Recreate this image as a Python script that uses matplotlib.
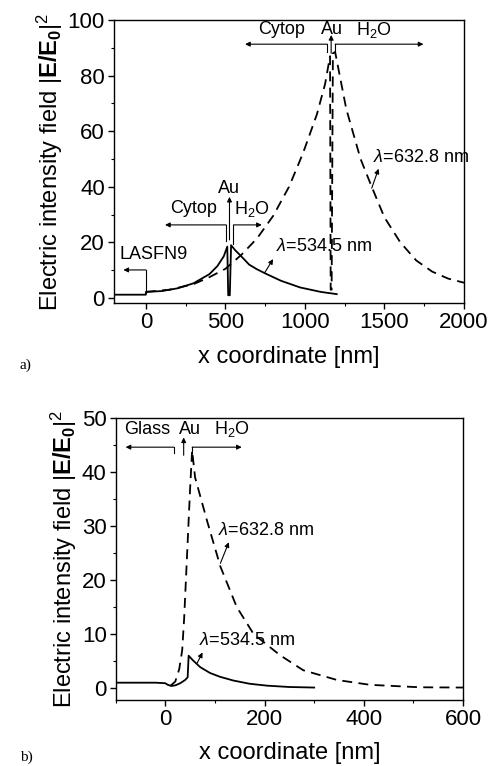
import numpy as np
import matplotlib
matplotlib.use("Agg")
import matplotlib.pyplot as plt
from matplotlib.ticker import MultipleLocator

plt.rcParams['font.family'] = ['Liberation Sans', 'DejaVu Sans']
plt.rcParams['mathtext.fontset'] = 'custom'
plt.rcParams['mathtext.rm'] = 'Liberation Sans'
plt.rcParams['mathtext.it'] = 'Liberation Sans:italic'
plt.rcParams['mathtext.bf'] = 'Liberation Sans:bold'

# ---- panel a: LASFN9 / Cytop / Au / H2O ----
xa_534 = [-200, 0, 1, 100, 200, 300, 400, 450, 490, 512, 518, 528, 536, 560, 600,
          650, 700, 760, 850, 970, 1100, 1200]
ya_534 = [1.2, 1.2, 2.2, 2.5, 3.5, 5.3, 8.6, 11.5, 15.0, 18.5, 1.0, 1.0, 19.0, 17.3, 15.0,
          12.0, 10.3, 8.6, 6.2, 3.8, 2.2, 1.4]

xa_632 = [0, 150, 300, 400, 500, 600, 700, 800, 900, 970, 1000, 1075, 1127, 1158, 1162,
          1168, 1176, 1190, 1260, 1350, 1420, 1500, 1600, 1700, 1800, 1900, 2000]
ya_632 = [2.2, 3.0, 5.0, 7.5, 10.5, 15.5, 21.5, 29.5, 40.0, 49.6, 54.0, 66.0, 77.0, 87.0, 3.0,
          3.0, 88.0, 88.5, 68.0, 50.0, 40.0, 29.0, 20.0, 13.5, 9.5, 7.0, 5.5]

# ---- panel b: Glass / Au / H2O ----
xb_534 = [-100, -20, 0, 5, 12, 20, 30, 40, 45, 47, 55, 70, 90, 110, 137, 170, 205, 250, 300]
yb_534 = [1.0, 1.0, 0.9, 0.6, 0.4, 0.5, 0.9, 1.5, 2.0, 6.0, 5.2, 3.9, 2.8, 2.1, 1.4, 0.8,
          0.45, 0.2, 0.1]

xb_632 = [10, 20, 28, 34, 38, 42, 46, 50, 54, 60, 84, 111, 144, 178, 231, 278, 346, 413,
          513, 600]
yb_632 = [0.4, 1.2, 3.5, 7.0, 13.0, 21.0, 29.0, 37.0, 44.0, 39.0, 31.0, 22.5, 15.0, 10.0,
          6.1, 3.3, 1.5, 0.6, 0.15, 0.1]

label_size = 17
tick_size = 16
note_size = 13
dash = (0, (5.5, 3.5))


def style_axes(ax, xmaj, xmin, ymaj, ymin):
    ax.xaxis.set_major_locator(MultipleLocator(xmaj))
    ax.xaxis.set_minor_locator(MultipleLocator(xmin))
    ax.yaxis.set_major_locator(MultipleLocator(ymaj))
    ax.yaxis.set_minor_locator(MultipleLocator(ymin))
    ax.tick_params(which='major', direction='out', length=4, width=1, labelsize=tick_size,
                   pad=2.5)
    ax.tick_params(which='minor', direction='out', length=2.5, width=0.8)
    for s in ax.spines.values():
        s.set_linewidth(1.0)
    ax.set_xlabel('x coordinate [nm]', fontsize=label_size, labelpad=9)
    ax.set_ylabel(r'Electric intensity field $|\mathbf{E/E}_\mathbf{0}|^2$', fontsize=label_size,
                  labelpad=2)


def bracket(ax, x0, x1, y0, y1):
    # vertical tick at x0 from y0 to y1, then arrow along y1 to x1
    ax.plot([x0, x0], [y0, y1], color='k', lw=0.8)
    ax.annotate('', xy=(x1, y1), xytext=(x0, y1),
                arrowprops=dict(arrowstyle='-|>', color='k', lw=0.8,
                                mutation_scale=7, shrinkA=0, shrinkB=0))


def arrow(ax, x0, y0, x1, y1):
    ax.annotate('', xy=(x1, y1), xytext=(x0, y0),
                arrowprops=dict(arrowstyle='-|>', color='k', lw=0.8,
                                mutation_scale=7, shrinkA=0, shrinkB=0))


fig = plt.figure(figsize=(4.88, 7.66), dpi=100)

ax1 = fig.add_axes([0.2336, 0.6044, 0.7172, 0.3695])
ax1.plot(xa_534, ya_534, color='k', lw=1.3)
ax1.plot(xa_632, ya_632, color='k', lw=1.3, linestyle=dash)
ax1.set_xlim(-200, 2000)
ax1.set_ylim(-1.8, 100)
style_axes(ax1, 500, 250, 20, 10)

ax1.text(855, 96.5, 'Cytop', fontsize=note_size, ha='center', va='center')
ax1.text(1169, 96.5, 'Au', fontsize=note_size, ha='center', va='center')
ax1.text(1431, 96.5, r'H$_2$O', fontsize=note_size, ha='center', va='center')
bracket(ax1, 1140, 624, 88.6, 91.3)
bracket(ax1, 1190, 1745, 88.6, 91.3)
arrow(ax1, 1165, 88.0, 1165, 94.6)

ax1.text(525, 39.5, 'Au', fontsize=note_size, ha='center', va='center')
ax1.text(300, 32.3, 'Cytop', fontsize=note_size, ha='center', va='center')
ax1.text(666, 31.9, r'H$_2$O', fontsize=note_size, ha='center', va='center')
bracket(ax1, 505, 121, 20.5, 26.3)
bracket(ax1, 551, 729, 19.5, 26.3)
arrow(ax1, 526, 20.9, 526, 36.4)

ax1.text(-168, 15.5, 'LASFN9', fontsize=note_size, ha='left', va='center')
bracket(ax1, 0, -141, 1.8, 10.1)

ax1.text(819, 18.7, r'$\lambda$=534.5 nm', fontsize=note_size, ha='left', va='center')
ax1.text(1430, 50.6, r'$\lambda$=632.8 nm', fontsize=note_size, ha='left', va='center')
arrow(ax1, 745, 8.9, 800, 14.0)
arrow(ax1, 1420, 39.5, 1463, 46.5)

ax2 = fig.add_axes([0.2371, 0.0862, 0.7117, 0.3681])
ax2.plot(xb_534, yb_534, color='k', lw=1.3)
ax2.plot(xb_632, yb_632, color='k', lw=1.3, linestyle=dash)
ax2.set_xlim(-100, 600)
ax2.set_ylim(-2.2, 50)
style_axes(ax2, 200, 100, 10, 5)

ax2.text(-37, 47.9, 'Glass', fontsize=note_size, ha='center', va='center')
ax2.text(49, 47.9, 'Au', fontsize=note_size, ha='center', va='center')
ax2.text(134, 47.9, r'H$_2$O', fontsize=note_size, ha='center', va='center')
bracket(ax2, 17, -80, 43.6, 44.6)
bracket(ax2, 54, 154, 43.6, 44.6)
arrow(ax2, 37, 43.1, 37, 46.4)

ax2.text(107, 29.1, r'$\lambda$=632.8 nm', fontsize=note_size, ha='left', va='center')
ax2.text(67, 8.8, r'$\lambda$=534.5 nm', fontsize=note_size, ha='left', va='center')
arrow(ax2, 111, 23.1, 128, 27.0)
arrow(ax2, 64, 4.6, 75, 6.6)

fig.text(20 / 488, 1 - 365 / 766, 'a)', family='Liberation Serif', fontsize=11,
         ha='left', va='center')
fig.text(20 / 488, 1 - 757 / 766, 'b)', family='Liberation Serif', fontsize=11,
         ha='left', va='center')

fig.savefig('out.png', dpi=100)
